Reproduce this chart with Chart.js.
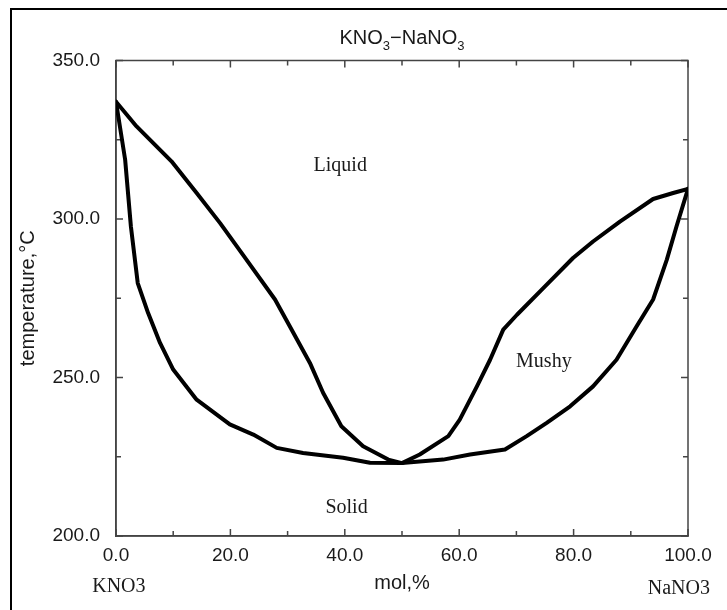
<!DOCTYPE html>
<html lang="en">
<head>
  <meta charset="UTF-8">
  <title>KNO3-NaNO3 phase diagram</title>
  <script src="https://cdn.jsdelivr.net/npm/chart.js@4"></script>
  <style>
    html, body { margin: 0; padding: 0; background: #fff; }
    .page { position: relative; width: 727px; height: 610px; overflow: hidden; }
    .frame { position: absolute; left: 10px; top: 8px; width: 740px; height: 620px; border-top: 2px solid #000; border-left: 2px solid #000; }
    canvas { position: absolute; left: 0; top: 0; }
  </style>
</head>
<body>
<div class="page">
  <div class="frame"></div>
  <canvas id="chart" width="727" height="610"></canvas>
</div>

<script>
// liquidus (upper curve), mol% NaNO3 vs temperature
const liquidusX = [0, 3.6, 9.7, 14.1, 18.2, 22.8, 27.8, 30.4, 33.9, 36.2, 39.4, 43.2, 47.6, 50, 53.1, 58.1, 60.1, 63.1, 65.4, 67.7, 70.1, 74.7, 79.9, 83.4, 88.1, 93.9, 97.4, 100];
const liquidusT = [337, 329.2, 318.2, 308.2, 298.7, 287.2, 274.6, 266.1, 254.6, 245.2, 234.6, 228.3, 224.1, 223, 225.7, 231.5, 236.7, 247.2, 255.6, 265.1, 269.8, 278.2, 287.7, 292.9, 299.2, 306.3, 308.2, 309.5];

// solidus (lower curve)
const solidusX = [0, 1.6, 2.6, 3.8, 5.6, 7.7, 10.0, 14.1, 19.9, 24.0, 28.1, 32.7, 39.7, 44.4, 50, 57.2, 61.9, 68.0, 71.8, 75.3, 79.4, 83.4, 87.5, 91.0, 93.9, 96.3, 98.0, 100];
const solidusT = [337, 318.7, 297.7, 279.8, 270.4, 260.9, 252.5, 243.0, 235.2, 232.0, 227.8, 226.2, 224.7, 223.1, 223, 224.1, 225.7, 227.3, 231.5, 235.7, 240.9, 247.2, 255.6, 266.1, 274.6, 287.2, 297.7, 309.5];

// axis ticks
const xTicks = [0, 20, 40, 60, 80, 100];
const yTicks = [200, 250, 300, 350];
const xMinor = 10;
const yMinor = 25;

// title pieces: [text, subscript?]
const titleParts = [['KNO', false], ['3', true], ['\u2212NaNO', false], ['3', true]];

// text labels placed in data units
const notes = [
  { text: 'Liquid', x: 39.2, y: 315.0 },
  { text: 'Mushy', x: 74.8, y: 253.3 },
  { text: 'Solid', x: 40.3, y: 207.2 },
  { text: 'KNO3', x: 0.5, y: 182.2 },
  { text: 'NaNO3', x: 98.4, y: 181.6 },
];

const SANS = "'Liberation Sans', Arial, sans-serif";
const SERIF = "'Liberation Serif', 'Times New Roman', serif";
const AXIS = '#444';
const TEXT = '#1a1a1a';

function toPoints(xs, ys) {
  return xs.map((x, i) => ({ x, y: ys[i] }));
}

// frame on all four sides with inward ticks
const frameTicks = {
  id: 'frameTicks',
  beforeDatasetsDraw(chart) {
    const { ctx, chartArea: a, scales: { x, y } } = chart;
    ctx.save();
    ctx.strokeStyle = AXIS;
    ctx.lineWidth = 1.5;
    ctx.strokeRect(a.left, a.top, a.right - a.left, a.bottom - a.top);
    ctx.beginPath();
    for (let v = x.min; v <= x.max; v += xMinor) {
      const px = x.getPixelForValue(v);
      const len = xTicks.includes(v) ? 7 : 5;
      ctx.moveTo(px, a.bottom); ctx.lineTo(px, a.bottom - len);
      ctx.moveTo(px, a.top); ctx.lineTo(px, a.top + len);
    }
    for (let v = y.min; v <= y.max; v += yMinor) {
      const py = y.getPixelForValue(v);
      const len = yTicks.includes(v) ? 7 : 5;
      ctx.moveTo(a.left, py); ctx.lineTo(a.left + len, py);
      ctx.moveTo(a.right, py); ctx.lineTo(a.right - len, py);
    }
    ctx.stroke();
    ctx.restore();
  }
};

const noteLabels = {
  id: 'noteLabels',
  afterDraw(chart) {
    const { ctx, chartArea: a, scales: { x, y } } = chart;
    ctx.save();
    ctx.fillStyle = TEXT;

    // title with lowered subscripts
    const big = '20px ' + SANS, small = '13px ' + SANS;
    let w = 0;
    titleParts.forEach(([t, sub]) => { ctx.font = sub ? small : big; w += ctx.measureText(t).width; });
    let cx = (a.left + a.right) / 2 - w / 2;
    ctx.textAlign = 'left';
    ctx.textBaseline = 'alphabetic';
    titleParts.forEach(([t, sub]) => {
      ctx.font = sub ? small : big;
      ctx.fillText(t, cx, sub ? 50 : 43.5);
      cx += ctx.measureText(t).width;
    });

    ctx.font = '20px ' + SERIF;
    ctx.textAlign = 'center';
    notes.forEach(n => {
      ctx.fillText(n.text, x.getPixelForValue(n.x), y.getPixelForValue(n.y));
    });
    ctx.restore();
  }
};

const lineStyle = {
  showLine: true,
  borderColor: '#000',
  borderWidth: 4,
  pointRadius: 0,
  tension: 0,
  borderJoinStyle: 'round',
  borderCapStyle: 'round',
  fill: false,
};

new Chart(document.getElementById('chart'), {
  type: 'scatter',
  data: {
    datasets: [
      { label: 'Liquidus', data: toPoints(liquidusX, liquidusT), ...lineStyle },
      { label: 'Solidus', data: toPoints(solidusX, solidusT), ...lineStyle },
    ]
  },
  options: {
    responsive: false,
    animation: false,
    devicePixelRatio: 1,
    layout: { padding: { left: 0, right: 39, top: 60.5, bottom: 0 } },
    plugins: {
      legend: { display: false },
      tooltip: { enabled: false },
      title: { display: false },
    },
    scales: {
      x: {
        type: 'linear',
        min: 0,
        max: 100,
        afterBuildTicks: s => { s.ticks = xTicks.map(v => ({ value: v })); },
        afterFit: s => { s.height = 74; },
        ticks: {
          callback: v => Number(v).toFixed(1),
          color: TEXT,
          font: { family: SANS, size: 19 },
          padding: 8,
          maxRotation: 0,
          autoSkip: false,
        },
        grid: { display: false, drawTicks: false },
        border: { display: true, color: AXIS, width: 1.5 },
        title: {
          display: true,
          text: 'mol,%',
          color: TEXT,
          font: { family: SANS, size: 20 },
          padding: { top: 0, bottom: 15 },
        },
      },
      y: {
        type: 'linear',
        min: 200,
        max: 350,
        afterBuildTicks: s => { s.ticks = yTicks.map(v => ({ value: v })); },
        afterFit: s => { s.width = 116; },
        ticks: {
          callback: v => Number(v).toFixed(1),
          color: TEXT,
          font: { family: SANS, size: 19 },
          padding: 16,
          autoSkip: false,
        },
        grid: { display: false, drawTicks: false },
        border: { display: true, color: AXIS, width: 1.5 },
        title: {
          display: true,
          text: 'temperature,\u00B0C',
          color: TEXT,
          font: { family: SANS, size: 20 },
          padding: { top: 16, bottom: 0 },
        },
      },
    },
  },
  plugins: [frameTicks, noteLabels],
});
</script>
</body>
</html>
